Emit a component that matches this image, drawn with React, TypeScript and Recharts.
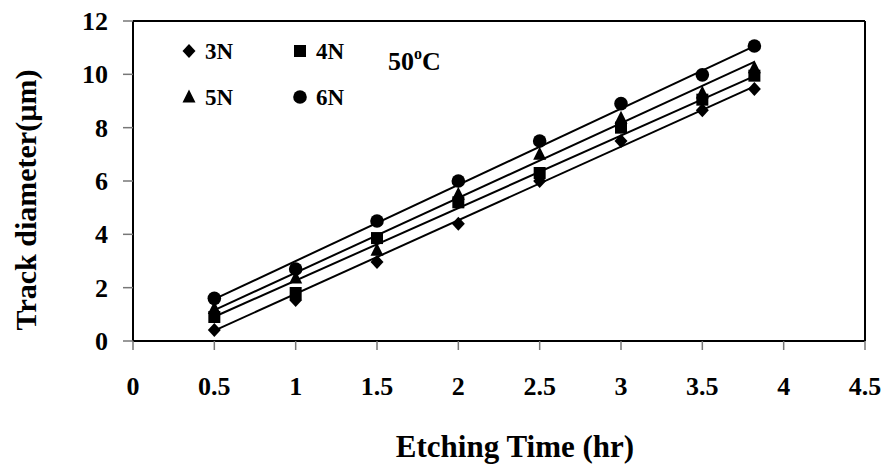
import { ReferenceLine, Scatter, ScatterChart, XAxis, YAxis } from "recharts";

const times = [0.5, 1, 1.5, 2, 2.5, 3, 3.5, 3.82];
const n3 = [0.41, 1.54, 2.96, 4.4, 6.0, 7.5, 8.65, 9.45];
const n4 = [0.9, 1.8, 3.86, 5.2, 6.3, 8.0, 9.05, 9.95];
const n5 = [1.22, 2.36, 3.4, 5.5, 7.0, 8.35, 9.3, 10.25];
const n6 = [1.6, 2.7, 4.5, 6.0, 7.5, 8.9, 9.98, 11.06];

// trend line end points
const fitX = [0.5, 3.82];
const fit3 = [0.39, 9.55];
const fit4 = [0.91, 9.93];
const fit5 = [1.16, 10.47];
const fit6 = [1.57, 11.06];

const xTicks = [0, 0.5, 1, 1.5, 2, 2.5, 3, 3.5, 4, 4.5];
const yTicks = [0, 2, 4, 6, 8, 10, 12];

const toPts = (xs: number[], ys: number[]) => xs.map((x, i) => ({ x, y: ys[i] }));

const FONT = "Liberation Serif";

type Kind = "diamond" | "square" | "triangle" | "circle";

function Marker({ kind, cx, cy }: { kind: Kind; cx: number; cy: number }) {
  if (kind === "diamond")
    return <polygon points={`${cx},${cy - 7} ${cx + 6.5},${cy} ${cx},${cy + 7} ${cx - 6.5},${cy}`} fill="#000" />;
  if (kind === "square") return <rect x={cx - 6} y={cy - 6} width={12} height={12} fill="#000" />;
  if (kind === "triangle")
    return <polygon points={`${cx},${cy - 7.5} ${cx + 6.5},${cy + 5.5} ${cx - 6.5},${cy + 5.5}`} fill="#000" />;
  return <circle cx={cx} cy={cy} r={6.8} fill="#000" />;
}

const shapeOf = (kind: Kind) => (p: any) => <Marker kind={kind} cx={p.cx} cy={p.cy} />;
const noShape = () => <g />;

const XTick = (p: any) => (
  <text x={p.x} y={p.y} dy={45} textAnchor="middle" fontFamily={FONT} fontWeight={700} fontSize={26} fill="#000">
    {p.payload.value}
  </text>
);

const YTick = (p: any) => (
  <text x={p.x} y={p.y} dy={9} textAnchor="end" fontFamily={FONT} fontWeight={700} fontSize={26} fill="#000">
    {p.payload.value}
  </text>
);

const YTitle = (p: any) => {
  const vb = p.viewBox;
  const x = vb.x + 36;
  const y = vb.y + vb.height / 2 + 19;
  return (
    <text
      x={x}
      y={y}
      transform={`rotate(-90 ${x} ${y})`}
      textAnchor="middle"
      fontFamily={FONT}
      fontWeight={700}
      fontSize={30}
      fill="#000"
    >
      Track diameter(µm)
    </text>
  );
};

const series: { name: string; kind: Kind; vals: number[]; fit: number[] }[] = [
  { name: "3N", kind: "diamond", vals: n3, fit: fit3 },
  { name: "4N", kind: "square", vals: n4, fit: fit4 },
  { name: "5N", kind: "triangle", vals: n5, fit: fit5 },
  { name: "6N", kind: "circle", vals: n6, fit: fit6 },
];

const legendPos = [
  { x: 189, y: 51 },
  { x: 300, y: 51 },
  { x: 189, y: 97 },
  { x: 300, y: 97 },
];

export default function App() {
  return (
    <div style={{ position: "absolute", left: 0, top: 0, width: 886, height: 468, background: "#fff" }}>
      <ScatterChart width={886} height={468} margin={{ top: 21, right: 21, bottom: 0, left: 0 }}>
        <XAxis
          type="number"
          dataKey="x"
          domain={[0, 4.5]}
          ticks={xTicks}
          height={127}
          axisLine={{ stroke: "#000", strokeWidth: 2 }}
          tickLine={{ stroke: "#777", strokeWidth: 1.5 }}
          tickSize={9}
          tickMargin={0}
          tick={XTick}
          label={{
            value: "Etching Time (hr)",
            position: "insideBottom",
            offset: 11,
            dx: 16,
            fill: "#000",
            fontSize: 31,
            fontWeight: 700,
            fontFamily: FONT,
          }}
        />
        <YAxis
          type="number"
          dataKey="y"
          domain={[0, 12]}
          ticks={yTicks}
          width={133}
          axisLine={{ stroke: "#000", strokeWidth: 2 }}
          tickLine={{ stroke: "#777", strokeWidth: 1.5 }}
          tickSize={10}
          tickMargin={15}
          tick={YTick}
          label={{ content: YTitle }}
        />
        <ReferenceLine y={12} stroke="#000" strokeWidth={2} ifOverflow="extendDomain" />
        <ReferenceLine x={4.5} stroke="#000" strokeWidth={2} ifOverflow="extendDomain" />
        {series.map((s) => (
          <Scatter
            key={`fit-${s.name}`}
            data={toPts(fitX, s.fit)}
            line={{ stroke: "#000", strokeWidth: 2 }}
            shape={noShape}
            isAnimationActive={false}
          />
        ))}
        {series.map((s) => (
          <Scatter
            key={s.name}
            name={s.name}
            data={toPts(times, s.vals)}
            shape={shapeOf(s.kind)}
            isAnimationActive={false}
          />
        ))}
      </ScatterChart>
      <svg
        width={886}
        height={468}
        style={{ position: "absolute", left: 0, top: 0, pointerEvents: "none" }}
      >
        {series.map((s, i) => (
          <g key={s.name}>
            <Marker kind={s.kind} cx={legendPos[i].x} cy={legendPos[i].y} />
            <text
              x={legendPos[i].x + 16}
              y={legendPos[i].y + 8}
              fontFamily={FONT}
              fontWeight={700}
              fontSize={23}
              fill="#000"
            >
              {s.name}
            </text>
          </g>
        ))}
        <text x={388} y={70} fontFamily={FONT} fontWeight={700} fontSize={26} fill="#000">
          50<tspan fontSize={16} dy={-11}>o</tspan>
          <tspan dy={11}>C</tspan>
        </text>
      </svg>
    </div>
  );
}
